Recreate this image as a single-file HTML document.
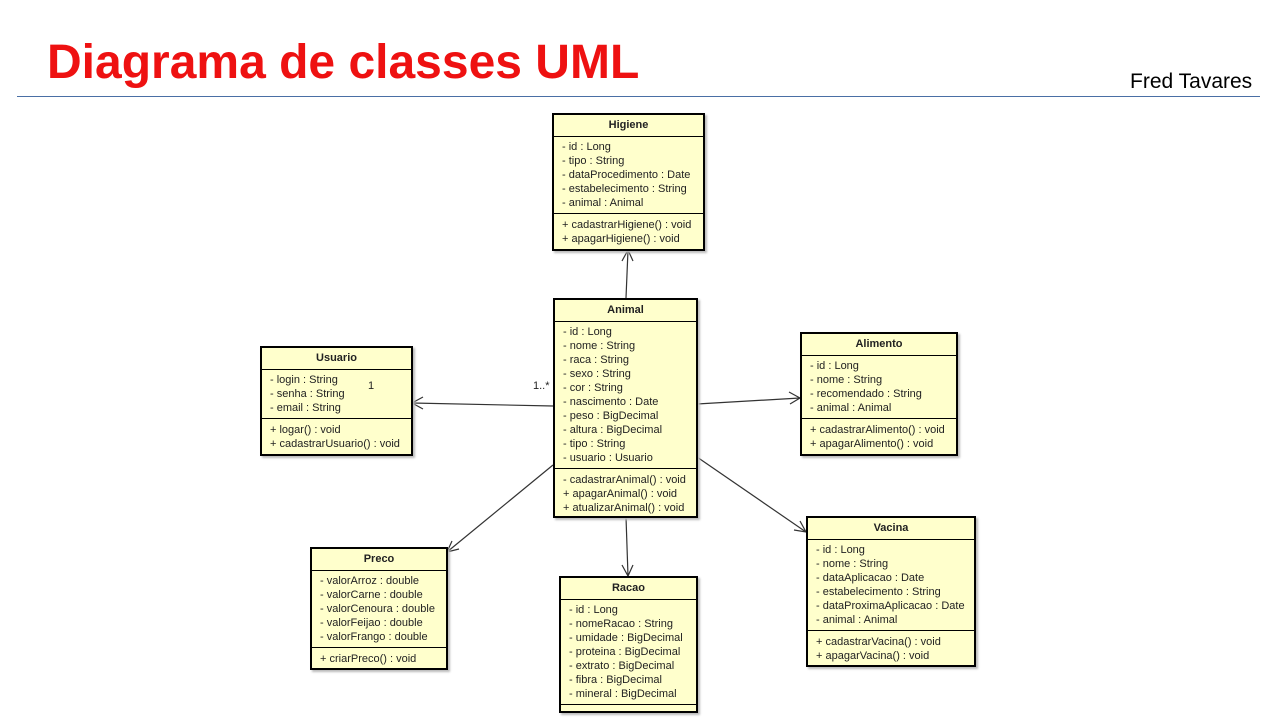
<!DOCTYPE html>
<html><head><meta charset="utf-8"><style>
body{margin:0;width:1280px;height:720px;background:#fff;position:relative;overflow:hidden;font-family:"Liberation Sans",sans-serif}
.t{position:absolute;left:47px;top:35px;font-size:48px;font-weight:bold;color:#ee1111}
.a{position:absolute;left:1130px;top:70px;font-size:21px;color:#000}
.hr{position:absolute;left:17px;top:96px;width:1243px;height:1px;background:#4a6fa5}
.b{position:absolute;background:#ffffcc;border:2px solid #000;box-sizing:border-box;font-size:11px;color:#222;box-shadow:2px 2px 2px #bbb}
.b .h{height:21px;line-height:21px;text-align:center;font-weight:bold;border-bottom:1px solid #000}
.b .s{padding:3px 8px 3px 8px;line-height:14px;white-space:nowrap}
.b .m{border-top:1px solid #000;padding:4px 8px;line-height:14px;white-space:nowrap}
.l{position:absolute;font-size:11px;color:#222;z-index:5}
svg{position:absolute;left:0;top:0}
</style></head><body>
<div class="t">Diagrama de classes UML</div>
<div class="a">Fred Tavares</div>
<div class="hr"></div>
<svg width="1280" height="720"><g stroke="#333" stroke-width="1.2" fill="none">
<line x1="626" y1="298" x2="628" y2="250"/><polyline points="622,261 628,250 633,261"/>
<line x1="553" y1="406" x2="412" y2="403"/><polyline points="423,397 412,403 423,409"/>
<line x1="697" y1="404" x2="800" y2="398"/><polyline points="789,392 800,398 790,404"/>
<line x1="697" y1="457" x2="806" y2="532"/><polyline points="794,530 806,532 800,521"/>
<line x1="553" y1="465" x2="447" y2="552"/><polyline points="452,541 447,552 459,549"/>
<line x1="626" y1="517" x2="628" y2="576"/><polyline points="622,565 628,576 633,565"/>
</g></svg>

<div class="b" style="left:552px;top:113px;width:153px;height:138px"><div class="h">Higiene</div><div class="s">- id : Long<br>- tipo : String<br>- dataProcedimento : Date<br>- estabelecimento : String<br>- animal : Animal</div><div class="m">+ cadastrarHigiene() : void<br>+ apagarHigiene() : void</div></div>

<div class="b" style="left:553px;top:298px;width:145px;height:220px"><div class="h">Animal</div><div class="s">- id : Long<br>- nome : String<br>- raca : String<br>- sexo : String<br>- cor : String<br>- nascimento : Date<br>- peso : BigDecimal<br>- altura : BigDecimal<br>- tipo : String<br>- usuario : Usuario</div><div class="m">- cadastrarAnimal() : void<br>+ apagarAnimal() : void<br>+ atualizarAnimal() : void</div></div>

<div class="b" style="left:260px;top:346px;width:153px;height:110px"><div class="h">Usuario</div><div class="s">- login : String<br>- senha : String<br>- email : String</div><div class="m">+ logar() : void<br>+ cadastrarUsuario() : void</div></div>

<div class="b" style="left:800px;top:332px;width:158px;height:124px"><div class="h">Alimento</div><div class="s">- id : Long<br>- nome : String<br>- recomendado : String<br>- animal : Animal</div><div class="m">+ cadastrarAlimento() : void<br>+ apagarAlimento() : void</div></div>

<div class="b" style="left:806px;top:516px;width:170px;height:151px"><div class="h">Vacina</div><div class="s">- id : Long<br>- nome : String<br>- dataAplicacao : Date<br>- estabelecimento : String<br>- dataProximaAplicacao : Date<br>- animal : Animal</div><div class="m">+ cadastrarVacina() : void<br>+ apagarVacina() : void</div></div>

<div class="b" style="left:310px;top:547px;width:138px;height:123px"><div class="h">Preco</div><div class="s">- valorArroz : double<br>- valorCarne : double<br>- valorCenoura : double<br>- valorFeijao : double<br>- valorFrango : double</div><div class="m">+ criarPreco() : void</div></div>

<div class="b" style="left:559px;top:576px;width:139px;height:137px"><div class="h">Racao</div><div class="s">- id : Long<br>- nomeRacao : String<br>- umidade : BigDecimal<br>- proteina : BigDecimal<br>- extrato : BigDecimal<br>- fibra : BigDecimal<br>- mineral : BigDecimal</div><div class="m" style="padding:4px 8px"></div></div>

<div class="l" style="left:368px;top:380px">1</div>
<div class="l" style="left:533px;top:380px">1..*</div>
</body></html>
